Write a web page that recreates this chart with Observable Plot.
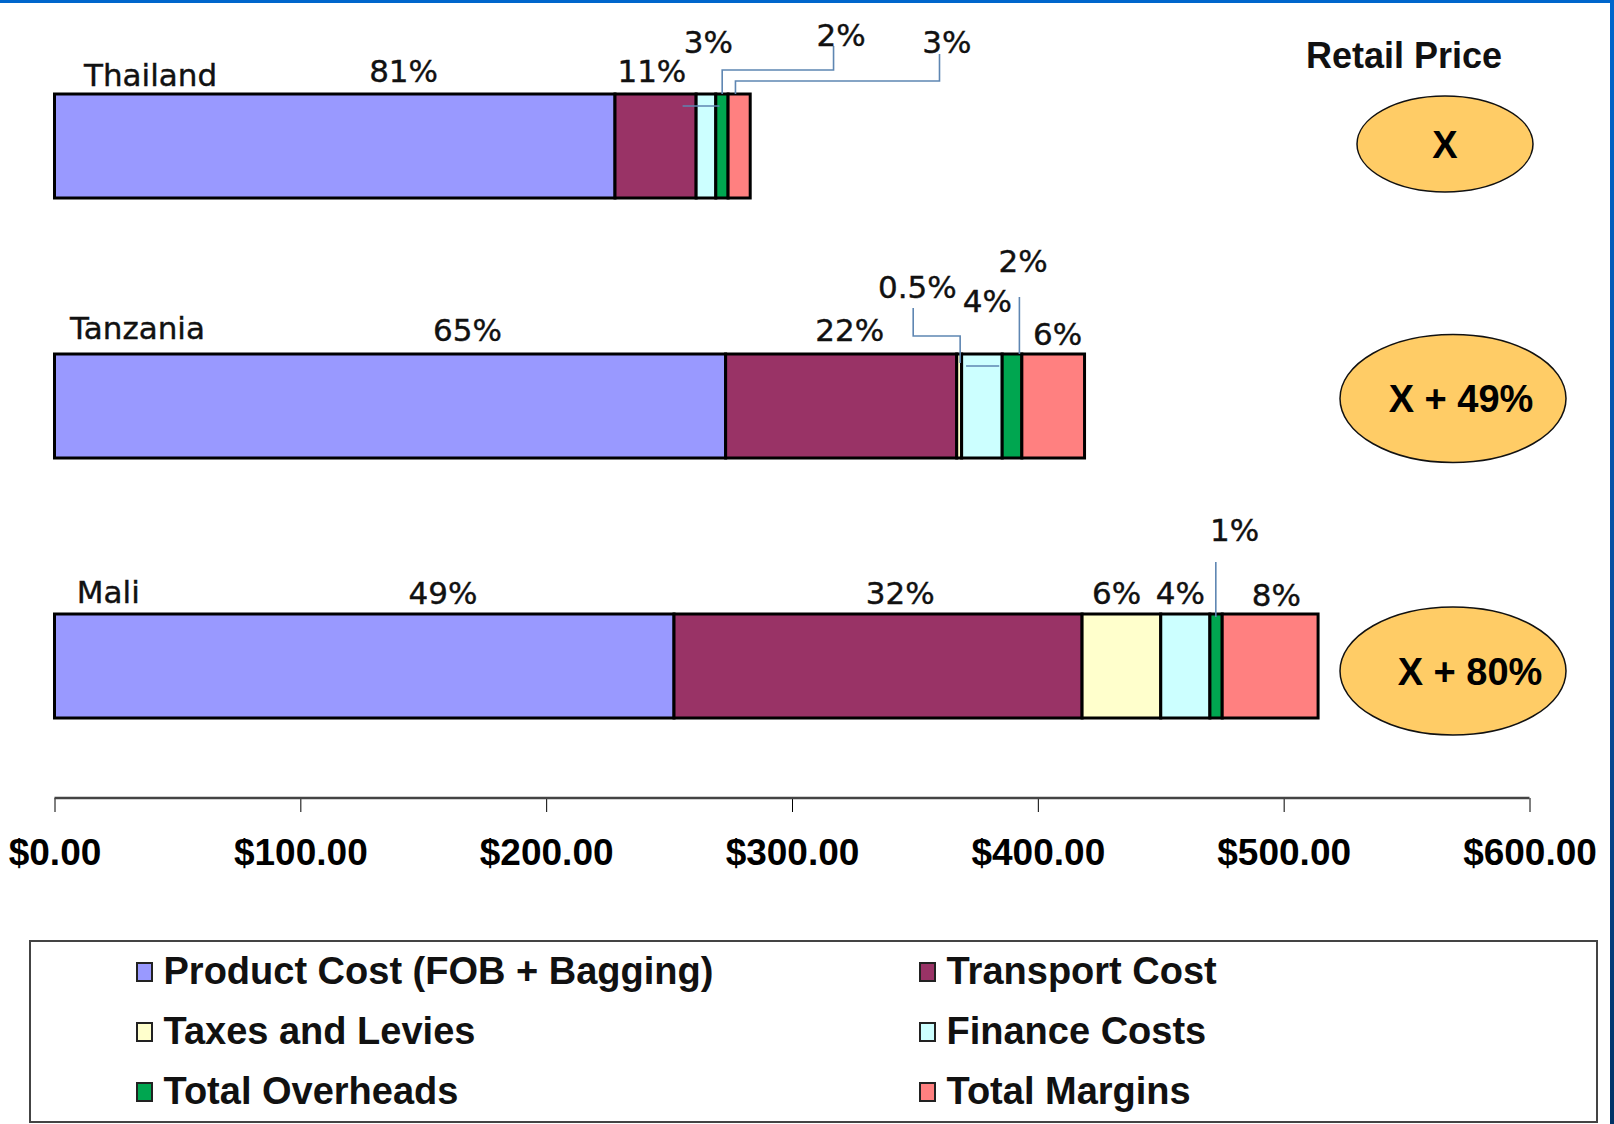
<!DOCTYPE html>
<html>
<head>
<meta charset="utf-8">
<script src="https://cdn.jsdelivr.net/npm/d3@7"></script>
<script src="https://cdn.jsdelivr.net/npm/@observablehq/plot@0.6"></script>
<style>
  html, body { margin: 0; padding: 0; background: #fff; }
  #wrap { position: relative; width: 1614px; height: 1124px; overflow: hidden; background: #fff; }
  #chart { position: absolute; left: 0; top: 0; }
  #legend { position: absolute; left: 29px; top: 940px; width: 1569px; height: 183px; box-sizing: border-box; border: 2.5px solid #444; background: #fff; }
  .item { position: absolute; display: flex; align-items: center; height: 40px; font: bold 38px "Liberation Sans", Arial, sans-serif; color: #111; white-space: nowrap; }
  .sw { width: 17px; height: 20px; box-sizing: border-box; border: 2px solid #222; margin-right: 11px; flex: none; }
  #topbar { position: absolute; left: 0; top: 0; width: 1614px; height: 3px; background: #0066CC; }
  #rightbar { position: absolute; left: 1610px; top: 0; width: 4px; height: 1124px; background: linear-gradient(#0066CC, #0A4C99 60%, #003366); }
</style>
</head>
<body>
<div id="wrap">
  <div id="chart"></div>
  <div id="legend"></div>
  <div id="topbar"></div>
  <div id="rightbar"></div>
</div>
<script>
// ---------- data ----------
const countries = ["Thailand", "Tanzania", "Mali"];
const components = ["Product Cost (FOB + Bagging)", "Transport Cost", "Taxes and Levies", "Finance Costs", "Total Overheads", "Total Margins"];
const componentColors = ["#9999FF", "#993366", "#FFFFCC", "#CCFFFF", "#00A650", "#FF8080"];

// cost per component in US$
const thailandCost = [228, 33, 0, 8, 5, 9];
const tanzaniaCost = [273, 94, 2, 16.5, 8, 25.5];
const maliCost     = [252, 166, 32, 20, 5, 39];

// share labels printed above the segments
const thailandShare = ["81%", "11%", null, "3%", "2%", "3%"];
const tanzaniaShare = ["65%", "22%", "0.5%", "4%", "2%", "6%"];
const maliShare     = ["49%", "32%", "6%", "4%", "1%", "8%"];

const retailPrice = ["X", "X + 49%", "X + 80%"];
const xTicks = [0, 100, 200, 300, 400, 500, 600];

// ---------- tables built from the arrays ----------
const costs = {Thailand: thailandCost, Tanzania: tanzaniaCost, Mali: maliCost};
const shares = {Thailand: thailandShare, Tanzania: tanzaniaShare, Mali: maliShare};
const rows = [];
for (const c of countries) components.forEach((k, i) => {
  if (costs[c][i] > 0) rows.push({country: c, component: k, value: costs[c][i]});
});

// ---------- annotation layout (x in $, lift = px above bar top) ----------
const shareLayout = {
  Thailand: [[142, 23], [243, 23], null, [266, 52], [320, 59], [363, 52]],
  Tanzania: [[168, 24.5], [323.5, 24.5], [351, 67.5], [379.5, 53], [394, 93.5], [408, 20]],
  Mali:     [[158, 21], [344, 21], [432, 21], [458, 21], [480, 84], [497, 19]]
};
const nameLayout = {Thailand: [12, 19], Tanzania: [6.3, 26.5], Mali: [9.1, 22]};
const leaders = [
  {country: "Thailand", pts: [[255.5, -12], [270.5, -12]]},
  {country: "Thailand", pts: [[271.6, 0], [271.6, 24], [316.9, 24], [316.9, 48]]},
  {country: "Thailand", pts: [[277, 0], [277, 13], [360, 13], [360, 40]]},
  {country: "Tanzania", pts: [[349.3, 46], [349.3, 18], [368.4, 18], [368.4, -9]]},
  {country: "Tanzania", pts: [[370.8, -12], [384.3, -12]]},
  {country: "Tanzania", pts: [[392.5, 57], [392.5, 0]]},
  {country: "Mali", pts: [[472.4, 52], [472.4, -3]]}
];
const badges = [
  {cx: 1445, dy: -2, rx: 88, ry: 48, tx: 1445},
  {cx: 1453, dy: -7.5, rx: 113, ry: 64, tx: 1461},
  {cx: 1453, dy: 5, rx: 113, ry: 64, tx: 1470}
];

function annotate(index, scales, values, dims) {
  const x = scales.x, y = scales.y;
  const bw = typeof y.bandwidth === "function" ? y.bandwidth() : 104;
  const g = d3.create("svg:g");
  const axisY = dims.height - dims.marginBottom;
  // axis base line
  g.append("line")
    .attr("x1", x(0)).attr("x2", x(600)).attr("y1", axisY).attr("y2", axisY)
    .attr("stroke", "#444").attr("stroke-width", 2.5);
  // leader lines
  const line = d3.line();
  for (const L of leaders) {
    const top = y(L.country);
    g.append("path")
      .attr("d", line(L.pts.map(([dx, lift]) => [x(dx), top - lift])))
      .attr("fill", "none").attr("stroke", "#5E86B2").attr("stroke-width", 1.6);
  }
  const labelFont = (sel, size) => sel
    .attr("font-family", "'DejaVu Sans', Verdana, sans-serif").attr("font-size", size)
    .attr("fill", "#111").attr("stroke", "#111").attr("stroke-width", 0.4);
  // country names
  for (const c of countries) {
    const [nx, lift] = nameLayout[c];
    g.append("text").attr("x", x(nx)).attr("y", y(c) - lift).attr("dy", "0.36em")
      .attr("text-anchor", "start").call(labelFont, 31).text(c);
  }
  // share labels
  for (const c of countries) {
    shares[c].forEach((s, i) => {
      const lay = shareLayout[c][i];
      if (!s || !lay) return;
      g.append("text").attr("x", x(lay[0])).attr("y", y(c) - lay[1]).attr("dy", "0.36em")
        .attr("text-anchor", "middle").call(labelFont, 31).text(s);
    });
  }
  // retail price header and badges
  g.append("text").attr("x", 1404).attr("y", 55).attr("dy", "0.36em").attr("text-anchor", "middle")
    .attr("font-family", "'Liberation Sans', Arial, sans-serif").attr("font-weight", "bold")
    .attr("font-size", 36).attr("fill", "#111").text("Retail Price");
  countries.forEach((c, i) => {
    const b = badges[i];
    const cy = y(c) + bw / 2 + b.dy;
    g.append("ellipse").attr("cx", b.cx).attr("cy", cy).attr("rx", b.rx).attr("ry", b.ry)
      .attr("fill", "#FFCC66").attr("stroke", "#111").attr("stroke-width", 1.5);
    g.append("text").attr("x", b.tx).attr("y", cy).attr("dy", "0.36em").attr("text-anchor", "middle")
      .attr("font-family", "'Liberation Sans', Arial, sans-serif").attr("font-weight", "bold")
      .attr("font-size", 38).attr("fill", "#000").text(retailPrice[i]);
  });
  return g.node();
}

const chart = Plot.plot({
  width: 1614,
  height: 930,
  marginLeft: 54.5,
  marginRight: 84.5,
  marginTop: 0,
  marginBottom: 132,
  style: {background: "#fff", color: "#000"},
  x: {domain: [0, 600]},
  y: {domain: countries, paddingInner: 0.6, paddingOuter: 0.332, align: 0.538, axis: null},
  color: {domain: components, range: componentColors},
  marks: [
    Plot.barX(rows, Plot.stackX({x: "value", y: "country", fill: "component", stroke: "#000", strokeWidth: 3})),
    Plot.axisX({
      ticks: xTicks,
      tickFormat: d => "$" + d.toFixed(2),
      tickSize: 14,
      tickPadding: 26,
      fontSize: 37,
      fontWeight: "bold",
      fontFamily: "'Liberation Sans', Arial, sans-serif",
      label: null
    }),
    annotate
  ]
});
document.getElementById("chart").appendChild(chart);

// ---------- legend ----------
const legend = document.getElementById("legend");
components.forEach((k, i) => {
  const col = i % 2, row = Math.floor(i / 2);
  const item = document.createElement("div");
  item.className = "item";
  item.style.left = (col ? 887.5 : 104.5) + "px";
  item.style.top = (9.5 + row * 60) + "px";
  const sw = document.createElement("span");
  sw.className = "sw";
  sw.style.background = componentColors[i];
  const t = document.createElement("span");
  t.textContent = k;
  item.appendChild(sw);
  item.appendChild(t);
  legend.appendChild(item);
});
</script>
</body>
</html>
